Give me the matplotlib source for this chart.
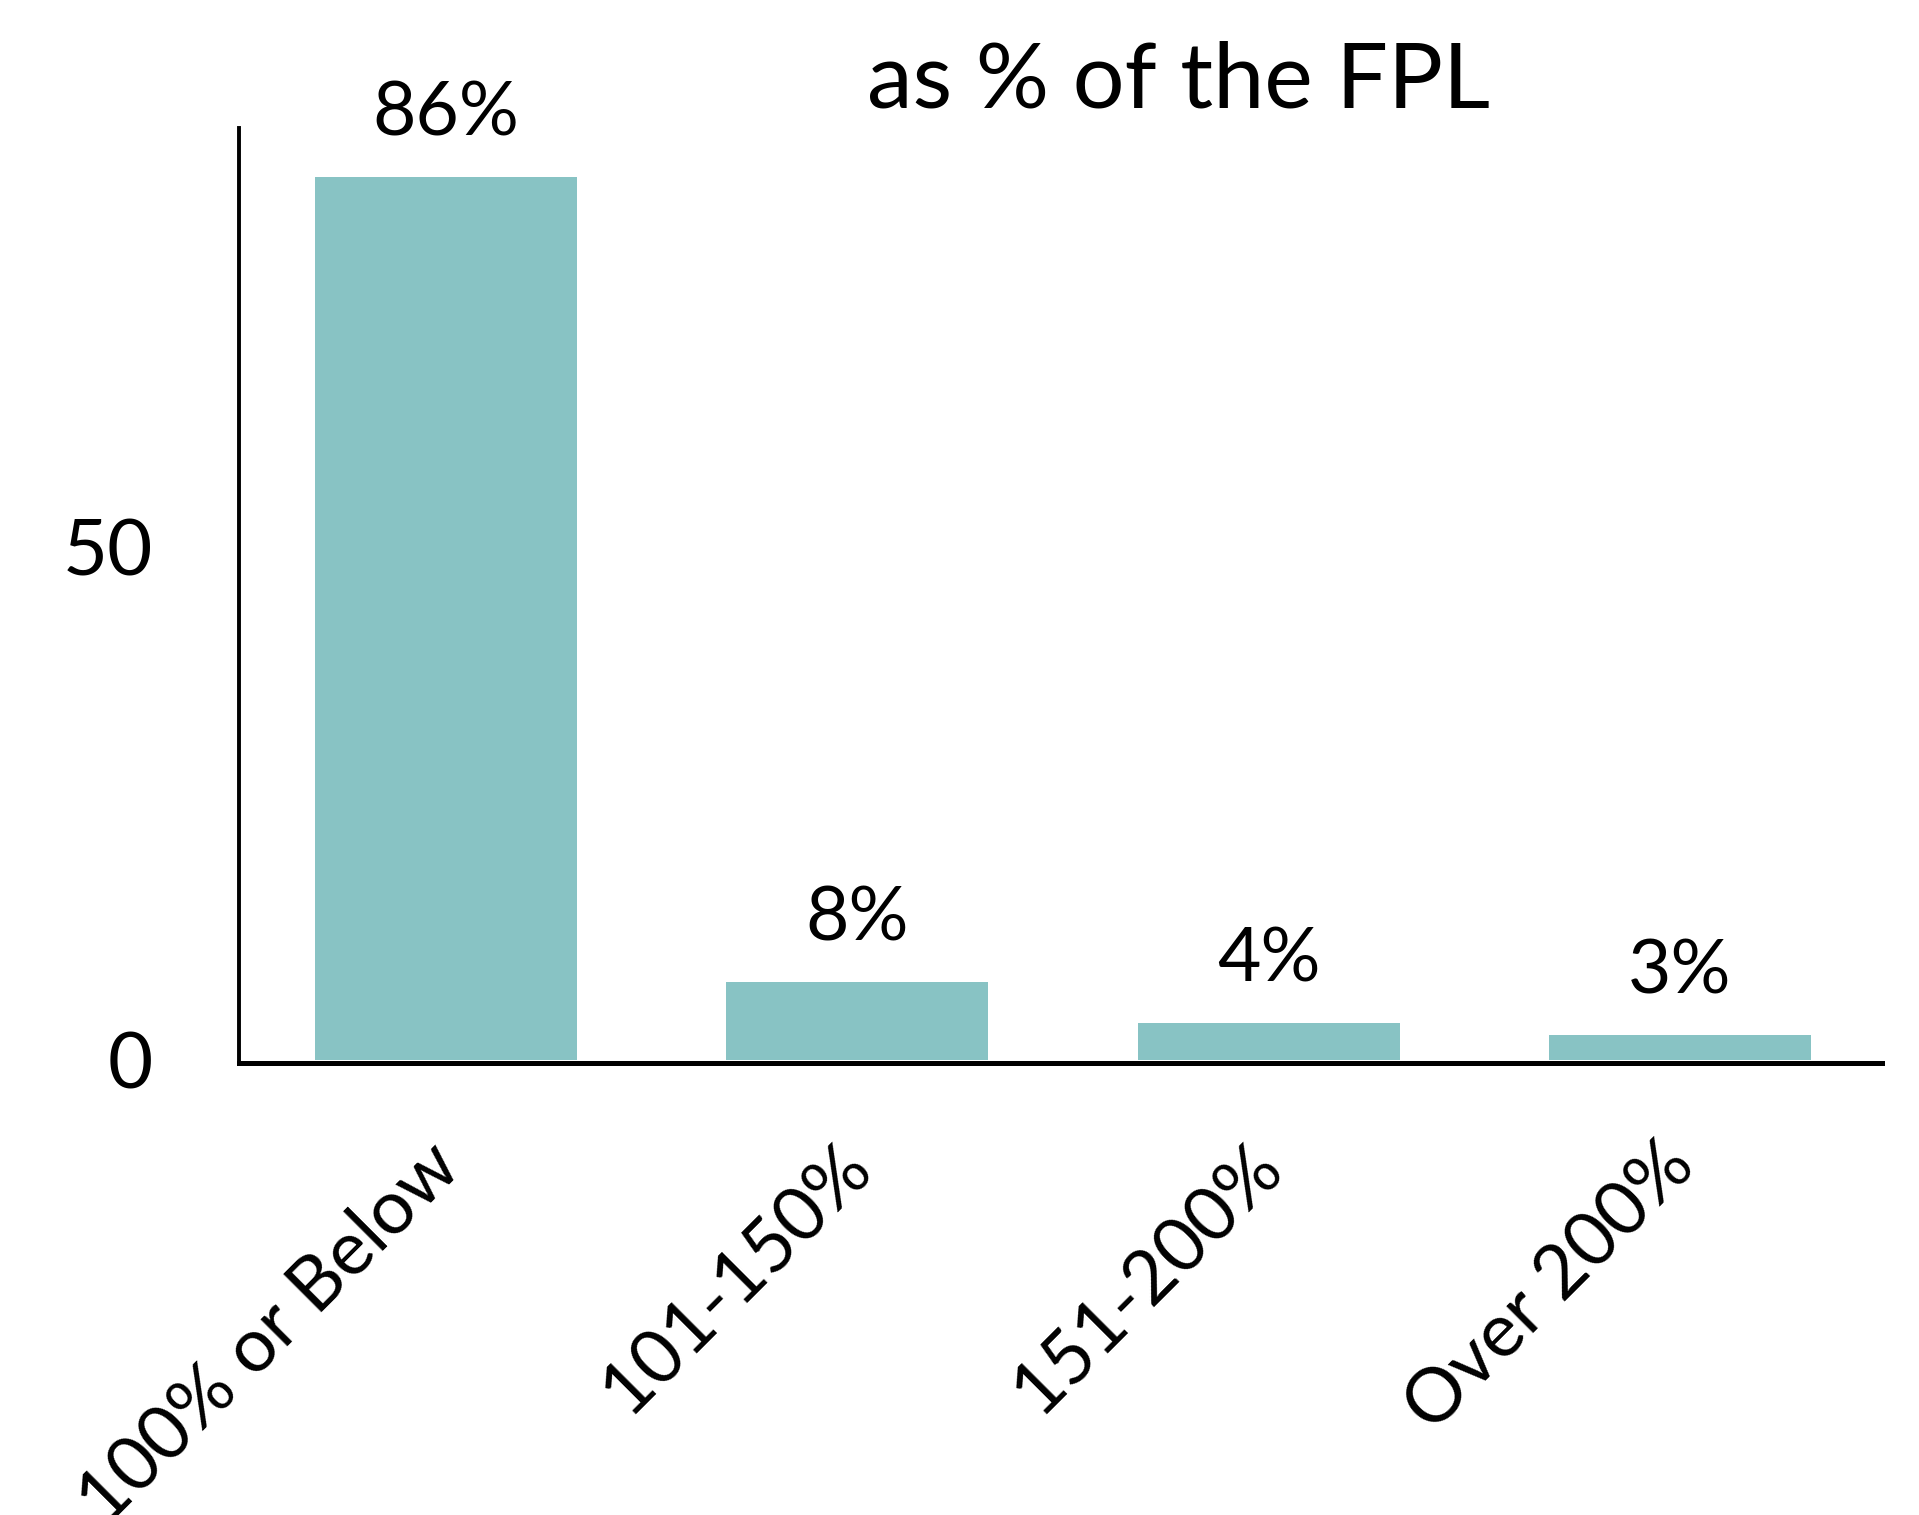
import matplotlib
matplotlib.use("Agg")
import matplotlib.pyplot as plt
from matplotlib.transforms import offset_copy

categories = ["100% or Below", "101-150%", "151-200%", "Over 200%"]
values = [86, 7.6, 3.6, 2.4]
value_labels = ["86%", "8%", "4%", "3%"]
yticks = [0, 50]
title = "as % of the FPL"

plt.rcParams['font.family'] = ['Lato', 'DejaVu Sans']

fig = plt.figure(figsize=(19.19, 15.15), dpi=100)
ax = fig.add_axes([0.1245, 0.3003, 0.8562, 0.6152])

x = list(range(len(categories)))
ax.bar(x, values, width=0.637, color='#88c3c4')
ax.set_xlim(-0.503, 3.491)
ax.set_ylim(0, 90.8)

for xi, v, lab in zip(x, values, value_labels):
    ax.annotate(lab, (xi, v), xytext=(0, 30), textcoords='offset points',
                ha='center', va='baseline', fontsize=54, color='black')

ax.tick_params(axis='y', length=0, pad=62)
ax.tick_params(axis='x', length=0)
ax.set_yticks(yticks)
ax.set_yticklabels([str(t) for t in yticks], fontsize=56)
ax.set_xticks(x)
ax.set_xticklabels([])

trans = offset_copy(ax.get_xaxis_transform(), fig=fig, x=2, y=-68, units='points')
for xi, cat in zip(x, categories):
    ax.text(xi, 0, cat, transform=trans, fontsize=54, rotation=45,
            rotation_mode='anchor', ha='right', va='center', clip_on=False)

for s in ['top', 'right']:
    ax.spines[s].set_visible(False)
ax.spines['left'].set_linewidth(2.8)
ax.spines['bottom'].set_linewidth(3.6)
ax.spines['bottom'].set_position(('outward', 2))

fig.text(0.614, 1 - 108 / 1515, title, fontsize=66, ha='center', va='baseline')

fig.savefig('out.png', dpi=100, facecolor='white')
